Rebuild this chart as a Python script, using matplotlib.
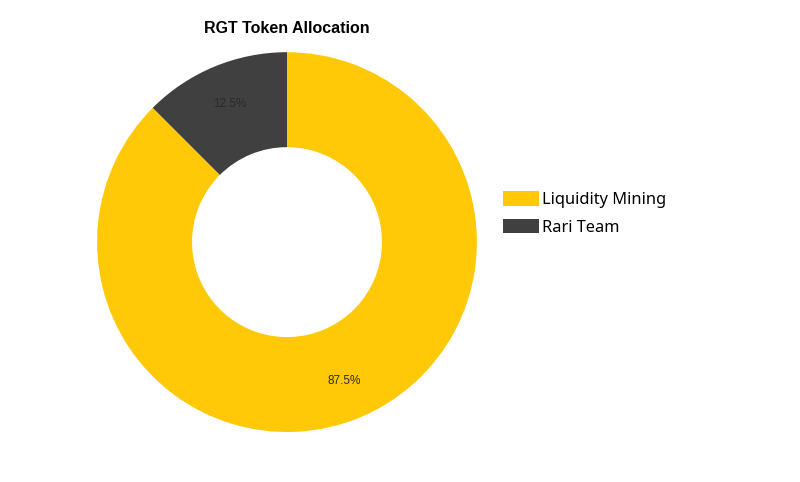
import matplotlib
matplotlib.use("Agg")
import matplotlib.pyplot as plt

labels = ["Liquidity Mining", "Rari Team"]
shares = [87.5, 12.5]
colors = ["#FFC907", "#404040"]

fig = plt.figure(figsize=(8, 4.82), dpi=100)
ax = fig.add_axes([0.12125, 0.1037, 0.475, 0.788])
wedges, texts, autotexts = ax.pie(
    shares, colors=colors, startangle=90, counterclock=False,
    autopct="%1.1f%%", pctdistance=0.79,
    wedgeprops=dict(width=0.5, edgecolor="none"),
    textprops=dict(fontsize=8.5, family="Liberation Sans", color="#2a2a2a"),
)
ax.set_xlim(-1, 1); ax.set_ylim(-1, 1)
ax.set_aspect("equal")

fig.text(0.359, 0.940, "RGT Token Allocation", ha="center", va="center",
         fontsize=11.5, fontweight="bold", family="Liberation Sans")

fig.legend(wedges, labels, loc="center left", bbox_to_anchor=(0.610, 0.557),
           frameon=False, prop=dict(family="Noto Sans", size=11.8),
           handlelength=2.2, handleheight=0.95, handletextpad=0.2, labelspacing=0.65)

fig.savefig("out.png", dpi=100)
